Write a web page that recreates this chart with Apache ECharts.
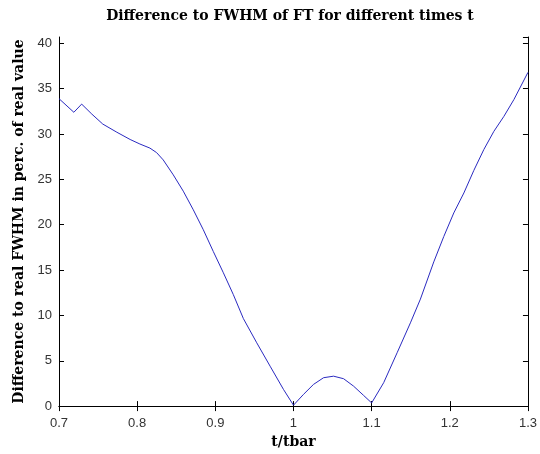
<!DOCTYPE html>
<html>
<head>
<meta charset="utf-8">
<script src="https://cdn.jsdelivr.net/npm/echarts@6/dist/echarts.min.js"></script>
<style>html,body{margin:0;padding:0;background:#fff}#c{width:540px;height:454px}</style>
</head>
<body>
<div id="c"></div>
<script>
const tValues = [0.7, 0.719, 0.729, 0.742, 0.756, 0.774, 0.791, 0.8035, 0.8163, 0.8249, 0.8333, 0.8462, 0.859, 0.8718, 0.8846, 0.8974, 0.9103, 0.923, 0.9359, 0.953, 0.9701, 0.9872, 1.0,
  1.0128, 1.0256, 1.0385, 1.0513, 1.0641, 1.0769, 1.0897, 1.1,
  1.1154, 1.1326, 1.1496, 1.1624, 1.1795, 1.1923, 1.2051, 1.218, 1.2308, 1.2436, 1.2564, 1.2692, 1.282, 1.3];
const diffValues = [33.9, 32.4, 33.3, 32.2, 31.1, 30.2, 29.4, 28.9, 28.45, 27.95, 27.15, 25.5, 23.7, 21.65, 19.45, 17.05, 14.7, 12.3, 9.65, 6.98, 4.4, 1.84, 0.1,
  1.29, 2.39, 3.13, 3.3, 3.02, 2.2, 1.18, 0.35,
  2.58, 5.88, 9.18, 11.8, 15.9, 18.7, 21.3, 23.5, 26.0, 28.3, 30.3, 31.95, 33.8, 36.8];
const xTicks = [0.7, 0.8, 0.9, 1.0, 1.1, 1.2, 1.3];
const yTicks = [0, 5, 10, 15, 20, 25, 30, 35, 40];
const titleText = 'Difference to FWHM of FT for different times t';
const xName = 't/tbar';
const yName = 'Difference to real FWHM in perc. of real value';

const chart = echarts.init(document.getElementById('c'), null, {renderer: 'canvas'});
const serif = '"DejaVu Serif", "Liberation Serif", serif';
const tickFont = {fontFamily: '"Liberation Sans", Arial, sans-serif', fontSize: 13, color: '#333'};
const axisCommon = {
  axisLine: {show: true, lineStyle: {color: '#000', width: 1}},
  axisTick: {show: true, inside: true, length: 5, lineStyle: {color: '#000', width: 1}},
  splitLine: {show: false}
};
chart.setOption({
  animation: false,
  backgroundColor: '#fff',
  title: {
    text: titleText, left: 285, top: 4, textAlign: 'center',
    textStyle: {fontFamily: serif, fontWeight: 'bold', fontSize: 14, color: '#000'}
  },
  grid: {left: 59, right: 12, top: 37, bottom: 47},
  xAxis: [
    Object.assign({type: 'value', min: xTicks[0], max: xTicks[xTicks.length - 1], interval: 0.1,
      name: xName, nameLocation: 'middle', nameGap: 28,
      nameTextStyle: {fontFamily: serif, fontWeight: 'bold', fontSize: 14, color: '#000'},
      axisLabel: Object.assign({margin: 11, formatter: v => String(Math.round(v * 10) / 10)}, tickFont)}, axisCommon),
    Object.assign({type: 'value', position: 'top', min: xTicks[0], max: xTicks[xTicks.length - 1], interval: 0.1,
      axisLabel: {show: false}}, axisCommon)
  ],
  yAxis: [
    Object.assign({type: 'value', min: yTicks[0], max: 40.7, interval: 5,
      name: yName, nameLocation: 'middle', nameGap: 27, nameRotate: 90,
      nameTextStyle: {fontFamily: serif, fontWeight: 'bold', fontSize: 14, color: '#000'},
      axisLabel: Object.assign({margin: 7, showMaxLabel: false}, tickFont)}, axisCommon),
    Object.assign({type: 'value', position: 'right', min: yTicks[0], max: 40.7, interval: 5,
      axisLabel: {show: false}}, axisCommon)
  ],
  series: [{
    type: 'line',
    data: tValues.map((t, i) => [t, diffValues[i]]),
    showSymbol: false,
    smooth: false,
    lineStyle: {color: '#2a2ac0', width: 1},
    itemStyle: {color: '#2a2ac0'}
  }]
});
</script>
</body>
</html>
